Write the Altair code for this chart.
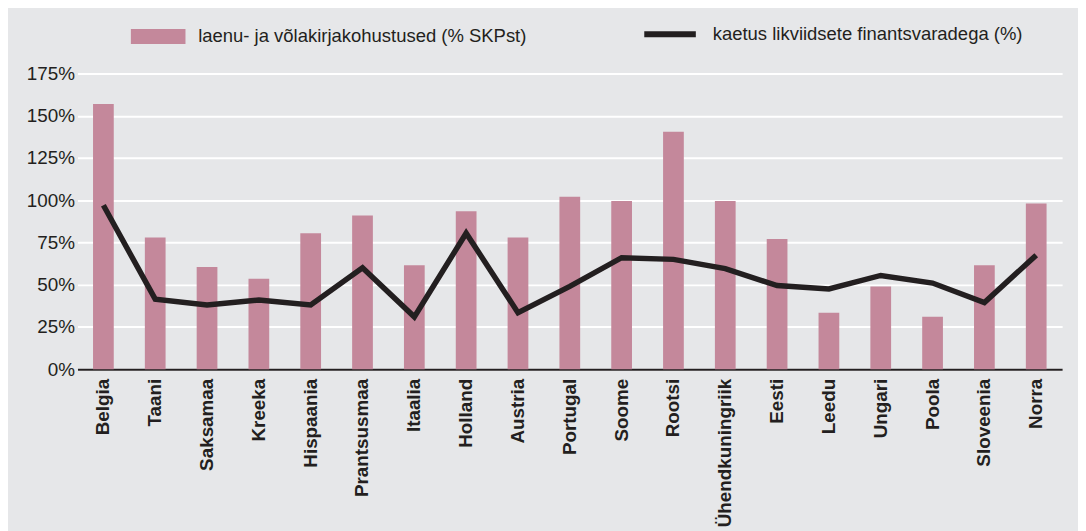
import altair as alt
import pandas as pd

countries = ["Belgia", "Taani", "Saksamaa", "Kreeka", "Hispaania", "Prantsusmaa",
             "Itaalia", "Holland", "Austria", "Portugal", "Soome", "Rootsi",
             "Ühendkuningriik", "Eesti", "Leedu", "Ungari", "Poola", "Sloveenia", "Norra"]
debt = [157, 78, 60.5, 53.5, 80.5, 91, 61.5, 93.5, 78, 102, 99.5, 140.5,
        99.5, 77, 33.5, 49, 31, 61.5, 98]
coverage = [97, 41.5, 38, 41, 38, 60, 31, 80.5, 33.5, 49, 66, 65,
            59.5, 49.5, 47.5, 55.5, 51, 39.5, 67.5]

bar_label = "laenu- ja võlakirjakohustused (% SKPst)"
line_label = "kaetus likviidsete finantsvaradega (%)"

df = pd.DataFrame({"country": countries, "debt": debt, "coverage": coverage,
                   "s1": bar_label, "s2": line_label})

FONT = "Liberation Sans"
DARK = "#231f20"

x = alt.X("country:N", sort=countries, title=None,
          scale=alt.Scale(paddingInner=0.6, paddingOuter=0.3),
          axis=alt.Axis(labelAngle=270, labelAlign="right", labelBaseline="middle",
                        labelFontWeight="bold", labelFontSize=19, labelFont=FONT,
                        labelColor=DARK, labelPadding=9, ticks=False, labelLimit=0,
                        domainColor=DARK, domainWidth=2.2, grid=False))

yscale = alt.Scale(domain=[0, 175])
yaxis = alt.Axis(values=[0, 25, 50, 75, 100, 125, 150, 175], labelExpr="datum.value + '%'",
                 labelFontSize=19, labelFont=FONT, labelColor=DARK, labelPadding=3,
                 ticks=False, domain=False, grid=True, gridColor="#ffffff", gridWidth=2,
                 title=None)

bars = alt.Chart(df).mark_bar(color="#c4889b").encode(
    x=x,
    y=alt.Y("debt:Q", scale=yscale, axis=yaxis),
    fill=alt.Fill("s1:N", scale=alt.Scale(domain=[bar_label], range=["#c4889b"]),
                  legend=alt.Legend(orient="none", legendX=72, legendY=-46.5, title=None,
                                    padding=0, labelLimit=0,
                                    symbolType="M-3.93,-1.07H3.93V1.07H-3.93Z",
                                    symbolSize=196, symbolOpacity=1, symbolStrokeWidth=0,
                                    labelFontSize=18.6, labelFont=FONT, labelColor=DARK,
                                    labelOffset=31)),
)

line = alt.Chart(df).mark_line(strokeWidth=5.5, strokeJoin="miter", strokeCap="butt").encode(
    x=alt.X("country:N", sort=countries),
    y=alt.Y("coverage:Q", scale=yscale),
    stroke=alt.Stroke("s2:N", scale=alt.Scale(domain=[line_label], range=[DARK]),
                      legend=alt.Legend(orient="none", legendX=587, legendY=-49.5, title=None,
                                        padding=0, labelLimit=0,
                                        symbolType="M-3.71,0H3.71",
                                        symbolSize=196, symbolStrokeWidth=6,
                                        labelFontSize=18.6, labelFont=FONT, labelColor=DARK,
                                        labelOffset=33)),
)

chart = alt.layer(bars, line).resolve_scale(fill="independent", stroke="independent").properties(
    width=992, height=298,
    autosize=alt.AutoSizeParams(type="none"),
    padding={"left": 70, "top": 64, "right": 16, "bottom": 161},
    background="#e6e7e9",
).configure_view(stroke=None)

chart.save("out.html", embed_options={"renderer": "svg", "actions": False})
